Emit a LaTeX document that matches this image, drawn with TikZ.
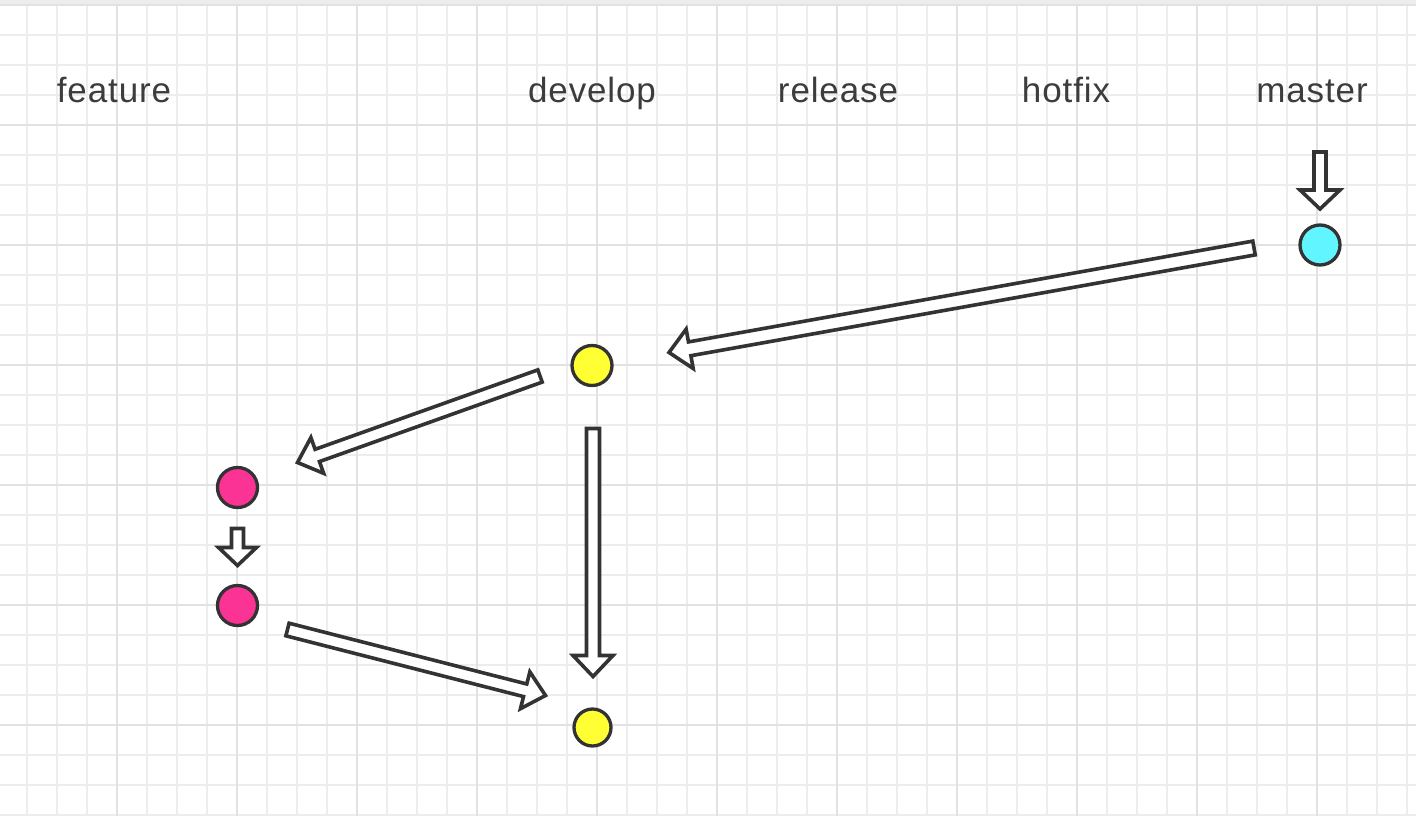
\documentclass[tikz,border=0pt]{standalone}
\usepackage{fontspec}
\setmainfont{Liberation Sans}[LetterSpace=2.5]
\usetikzlibrary{calc}
\definecolor{gridminor}{HTML}{EDEDED}
\definecolor{gridmajor}{HTML}{E2E2E2}
\definecolor{inkc}{HTML}{333333}
\definecolor{labelc}{HTML}{3C3C3C}
\definecolor{cyanc}{HTML}{60F5FF}
\definecolor{yellowc}{HTML}{FFFF33}
\definecolor{pinkc}{HTML}{FA3394}
\tikzset{
  lbl/.style={anchor=base, text=labelc, font=\fontsize{35}{40}\selectfont, inner sep=0pt},
  commit/.style={circle, draw=inkc, line width=3.3pt, minimum size=40pt, inner sep=0pt},
  barrow/.style={draw=inkc, fill=white, line width=3.6pt, line join=miter, miter limit=10}
}
% #1 tail, #2 tip, #3 shaft half width, #4 head half width, #5 head length
\newcommand\blockarr[5]{%
  \coordinate (hb) at ($(#2)!#5!(#1)$);
  \draw[barrow] ($(#1)!#3!90:(#2)$) -- ($(hb)!#3!90:(#2)$) -- ($(hb)!#4!90:(#2)$)
    -- (#2) -- ($(hb)!#4!-90:(#2)$) -- ($(hb)!#3!-90:(#2)$) -- ($(#1)!#3!-90:(#2)$) -- cycle;
}
\begin{document}
\begin{tikzpicture}[x=1pt,y=-1pt]
\useasboundingbox (0,0) rectangle (1416,816);
\fill[white] (0,0) rectangle (1416,816);
% grid
\foreach \x in {27,57,...,1416} \draw[gridminor, line width=1.5pt] (\x,0) -- (\x,816);
\foreach \y in {35,65,...,816} \draw[gridminor, line width=1.5pt] (0,\y) -- (1416,\y);
\foreach \x in {117,237,...,1416} \draw[gridmajor, line width=2pt] (\x,0) -- (\x,816);
\foreach \y in {125,245,...,816} \draw[gridmajor, line width=2pt] (0,\y) -- (1416,\y);
\fill[gridminor] (0,0) rectangle (1416,5);
\draw[gridmajor, line width=2pt] (0,5) -- (1416,5);
% labels
\node[lbl] (lf) at (114,102) {feature};
\node[lbl] (ld) at (592,102) {develop};
\node[lbl] (lr) at (838,102) {release};
\node[lbl] (lh) at (1066,102) {hotfix};
\node[lbl] (lm) at (1312,102) {master};
% commits
\node[commit, fill=cyanc] (m) at (1320,245) {};
\node[commit, fill=yellowc] (d1) at (592,365.5) {};
\node[commit, fill=pinkc] (f1) at (237.5,487.5) {};
\node[commit, fill=pinkc] (f2) at (237.5,605.5) {};
\node[commit, fill=yellowc, minimum size=37pt] (d2) at (592.5,727.5) {};
% arrow end points
\coordinate (a0s) at ($(m)+(0,-93)$);
\coordinate (a0e) at ($(m)+(0,-36)$);
\coordinate (a1s) at ($(m)+(-66,3)$);
\coordinate (a1e) at ($(d1)+(77,-13)$);
\coordinate (a2s) at ($(d1)+(-52,10.5)$);
\coordinate (a2e) at ($(f1)+(60,-25)$);
\coordinate (a3s) at ($(d1)+(1,63)$);
\coordinate (a3e) at ($(d2)+(0.5,-51)$);
\coordinate (a4s) at ($(f1)+(0,41)$);
\coordinate (a4e) at ($(f1)+(0,78)$);
\coordinate (a5s) at ($(f2)+(50,24)$);
\coordinate (a5e) at ($(d2)+(-47,-32)$);
% arrows
\blockarr{a0s}{a0e}{6pt}{20pt}{19pt}
\blockarr{a1s}{a1e}{7pt}{20pt}{21pt}
\blockarr{a2s}{a2e}{6.5pt}{19pt}{21pt}
\blockarr{a3s}{a3e}{6.5pt}{20pt}{21pt}
\blockarr{a4s}{a4e}{6pt}{19pt}{18pt}
\blockarr{a5s}{a5e}{6.5pt}{19pt}{21pt}
\end{tikzpicture}
\end{document}
